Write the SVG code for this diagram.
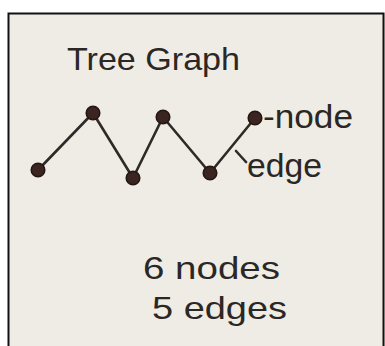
<svg xmlns="http://www.w3.org/2000/svg" width="385" height="346" viewBox="0 0 385 346">
<style>
.hand{font-family:"Liberation Sans","DejaVu Sans",sans-serif;fill:#2b2724;}
.edge{stroke:#2e2a27;stroke-width:2.6;stroke-linecap:round;fill:none;}
.node{fill:#3a2520;stroke:#241614;stroke-width:1.5;}
</style>
<rect x="0" y="0" width="385" height="346" fill="#ffffff"/>
<rect x="8" y="13" width="377" height="340" fill="#efece6"/>
<path d="M8.5 346 V13.5 H383.5 V346" fill="none" stroke="#111" stroke-width="2"/>
<text class="hand" x="67" y="70" font-size="32" textLength="173" lengthAdjust="spacingAndGlyphs">Tree Graph</text>
<g id="connectors">
<line class="edge" x1="38" y1="170" x2="93" y2="113"/>
<line class="edge" x1="93" y1="113" x2="133" y2="178"/>
<line class="edge" x1="133" y1="178" x2="163" y2="117"/>
<line class="edge" x1="163" y1="117" x2="210" y2="173"/>
<line class="edge" x1="210" y1="173" x2="255" y2="118"/>
</g>
<g id="n1"><circle class="node" cx="38" cy="170" r="6.8"/></g>
<g id="n2"><circle class="node" cx="93" cy="113" r="6.8"/></g>
<g id="n3"><circle class="node" cx="133" cy="178" r="6.8"/></g>
<g id="n4"><circle class="node" cx="163" cy="117" r="6.8"/></g>
<g id="n5"><circle class="node" cx="210" cy="173" r="6.8"/></g>
<g id="n6"><circle class="node" cx="255" cy="118" r="6.8"/></g>
<g id="labels">
<text class="hand" x="263" y="128" font-size="34" textLength="90" lengthAdjust="spacingAndGlyphs">-node</text>
<line class="edge" x1="236" y1="151" x2="246" y2="162" stroke-width="2"/>
<text class="hand" x="247" y="177" font-size="34" textLength="75" lengthAdjust="spacingAndGlyphs">edge</text>
<text class="hand" x="143" y="279" font-size="32" textLength="137" lengthAdjust="spacingAndGlyphs">6 nodes</text>
<text class="hand" x="152" y="319" font-size="32" textLength="135" lengthAdjust="spacingAndGlyphs">5 edges</text>
</g>
</svg>
